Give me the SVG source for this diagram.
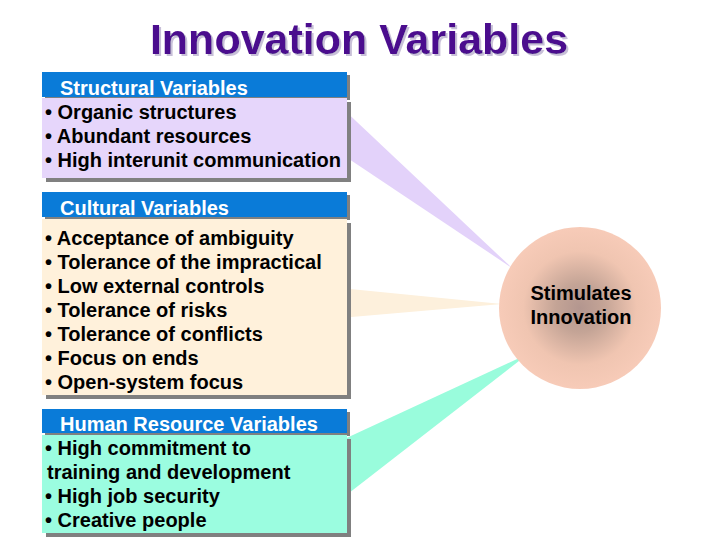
<svg xmlns="http://www.w3.org/2000/svg" width="720" height="540" viewBox="0 0 720 540">
<defs>
<radialGradient id="ball" cx="0.5" cy="0.5" r="0.5">
<stop offset="0" stop-color="#b3968f"/>
<stop offset="0.3" stop-color="#c4a496"/>
<stop offset="0.7" stop-color="#f0c5b1"/>
<stop offset="1" stop-color="#f7cbb8"/>
</radialGradient>
<filter id="tsh" x="-5%" y="-20%" width="110%" height="140%">
<feDropShadow dx="2" dy="2" stdDeviation="0.5" flood-color="#c8c0d8" flood-opacity="1"/>
</filter>
</defs>
<style>
.title{font-family:"Liberation Sans",Arial,sans-serif;font-weight:bold;font-size:43px;fill:#4b0a8e}
.hdr{fill:#0a7bd8}
.shd{fill:#808080}
.htxt{font-family:"Liberation Sans",Arial,sans-serif;font-weight:bold;font-size:20px;fill:#ffffff}
.btxt{font-family:"Liberation Sans",Arial,sans-serif;font-weight:bold;font-size:20px;fill:#000000}
</style>
<rect width="720" height="540" fill="#ffffff"/>
<g id="title">
<text class="title" x="359" y="54" text-anchor="middle" filter="url(#tsh)">Innovation Variables</text>
</g>
<g id="connectors">
<polygon points="340,106 340,153 512,268" fill="#e3d2fa"/>
<polygon points="340,288 340,318 502,304" fill="#fdf0dc"/>
<polygon points="340,441 340,500 528,354" fill="#99fcdc"/>
</g>
<g id="structural">
<rect class="shd" x="45" y="75" width="305" height="25"/>
<rect class="hdr" x="42" y="72" width="305" height="25"/>
<rect class="shd" x="46" y="102" width="305" height="80"/>
<rect x="42" y="98" width="305" height="80" fill="#e6d6fb"/>
<text class="htxt" x="60" y="95">Structural Variables</text>
<text class="btxt" x="45" y="119">• Organic structures</text>
<text class="btxt" x="45" y="143">• Abundant resources</text>
<text class="btxt" x="45" y="167">• High interunit communication</text>
</g>
<g id="cultural">
<rect class="shd" x="45" y="195" width="305" height="25"/>
<rect class="hdr" x="42" y="192" width="305" height="25"/>
<rect class="shd" x="46" y="223" width="305" height="176"/>
<rect x="42" y="219" width="305" height="176" fill="#fff1db"/>
<text class="htxt" x="60" y="215">Cultural Variables</text>
<text class="btxt" x="45" y="245">• Acceptance of ambiguity</text>
<text class="btxt" x="45" y="269">• Tolerance of the impractical</text>
<text class="btxt" x="45" y="293">• Low external controls</text>
<text class="btxt" x="45" y="317">• Tolerance of risks</text>
<text class="btxt" x="45" y="341">• Tolerance of conflicts</text>
<text class="btxt" x="45" y="365">• Focus on ends</text>
<text class="btxt" x="45" y="389">• Open-system focus</text>
</g>
<g id="human">
<rect class="shd" x="45" y="412" width="305" height="24"/>
<rect class="hdr" x="42" y="409" width="305" height="24"/>
<rect class="shd" x="46" y="439" width="305" height="98"/>
<rect x="42" y="435" width="305" height="98" fill="#9bfde0"/>
<text class="htxt" x="60" y="431">Human Resource Variables</text>
<text class="btxt" x="45" y="455">• High commitment to</text>
<text class="btxt" x="47" y="479">training and development</text>
<text class="btxt" x="45" y="503">• High job security</text>
<text class="btxt" x="45" y="527">• Creative people</text>
</g>
<g id="stimulates">
<circle cx="580" cy="308" r="81" fill="url(#ball)"/>
<text class="btxt" x="581" y="300" text-anchor="middle" font-size="19">Stimulates</text>
<text class="btxt" x="581" y="324" text-anchor="middle" font-size="19">Innovation</text>
</g>
</svg>
